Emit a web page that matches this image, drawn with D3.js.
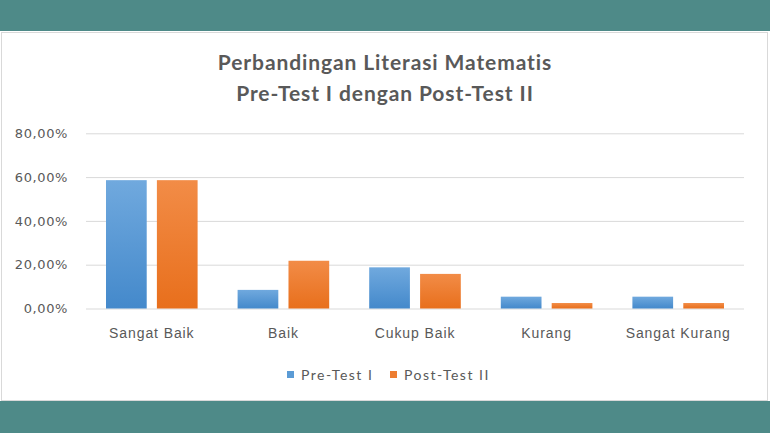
<!DOCTYPE html>
<html>
<head>
<meta charset="utf-8">
<script src="https://cdn.jsdelivr.net/npm/d3@7"></script>
<style>
  body { margin: 0; background: #fff; }
  svg { display: block; font-family: Lato, "Open Sans", sans-serif; }
</style>
</head>
<body>
<script>
// data
var categories = ['Sangat Baik', 'Baik', 'Cukup Baik', 'Kurang', 'Sangat Kurang'];
var seriesNames = ['Pre-Test I', 'Post-Test II'];
var preTest = [0.586, 0.085, 0.188, 0.054, 0.054];
var postTest = [0.586, 0.218, 0.158, 0.025, 0.025];
var yTicks = [0, 0.2, 0.4, 0.6, 0.8];
var titleLines = ['Perbandingan Literasi Matematis', 'Pre-Test I dengan Post-Test II'];

var width = 770, height = 433;
var colors = ['#5b9bd5', '#ed7d31'];
var textColor = '#595959';

var svg = d3.select('body').append('svg')
  .attr('width', width)
  .attr('height', height);

var defs = svg.append('defs');
var grads = [['#70a9de', '#4489cb'], ['#f28c47', '#e86f1c']];
grads.forEach(function (g, i) {
  var lg = defs.append('linearGradient')
    .attr('id', 'g' + i)
    .attr('x1', 0).attr('y1', 0).attr('x2', 0).attr('y2', 1);
  lg.append('stop').attr('offset', '0%').attr('stop-color', g[0]);
  lg.append('stop').attr('offset', '100%').attr('stop-color', g[1]);
});

// frame
svg.append('rect').attr('x', 0).attr('y', 0).attr('width', width).attr('height', height).attr('fill', '#fff');
svg.append('rect').attr('x', 0).attr('y', 0).attr('width', width).attr('height', 31).attr('fill', '#4e8a88');
svg.append('rect').attr('x', 0).attr('y', 401).attr('width', width).attr('height', 32).attr('fill', '#4e8a88');
svg.append('rect').attr('x', 1.5).attr('y', 32.5).attr('width', 766).attr('height', 368)
  .attr('fill', 'none').attr('stroke', '#d9d9d9').attr('stroke-width', 1);

// scales
var x0 = d3.scaleBand().domain(categories).range([86, 744]).padding(0);
var x1 = d3.scaleBand().domain(seriesNames).range([20, x0.bandwidth() - 20]).paddingInner(0.2);
var y = d3.scaleLinear().domain([0, 0.8]).range([308.5, 133.3]);

var fmt = d3.formatLocale({ decimal: ',', thousands: '.', grouping: [3], currency: ['', ''] }).format('.2%');

// gridlines
var yAxis = d3.axisLeft(y).tickValues(yTicks).tickSize(-(744 - 86)).tickFormat(fmt).tickPadding(18);
var gy = svg.append('g').attr('transform', 'translate(86,0)').call(yAxis);
gy.select('.domain').remove();
gy.selectAll('.tick line').attr('stroke', '#d9d9d9').attr('stroke-width', 1);
gy.selectAll('.tick text').attr('fill', textColor)
  .style('font-family', '"DejaVu Sans", sans-serif')
  .style('font-size', '13px')
  .style('letter-spacing', '0.6px');

// bars
var rows = categories.map(function (c, i) {
  return { cat: c, vals: [preTest[i], postTest[i]] };
});
var groups = svg.selectAll('.grp').data(rows).enter().append('g')
  .attr('transform', function (d) { return 'translate(' + x0(d.cat) + ',0)'; });
groups.selectAll('rect')
  .data(function (d) { return d.vals.map(function (v, j) { return { s: seriesNames[j], v: v, j: j }; }); })
  .enter().append('rect')
  .attr('x', function (d) { return x1(d.s); })
  .attr('y', function (d) { return y(d.v); })
  .attr('width', x1.bandwidth())
  .attr('height', function (d) { return y(0) - y(d.v); })
  .attr('fill', function (d) { return 'url(#g' + d.j + ')'; });

// x axis labels
var xAxis = d3.axisBottom(x0).tickSize(0).tickPadding(20);
var gx = svg.append('g').attr('transform', 'translate(0,' + y(0) + ')').call(xAxis);
gx.select('.domain').remove();
gx.selectAll('.tick text').attr('fill', textColor)
  .style('font-size', '14px')
  .style('letter-spacing', '0.9px');

// title
svg.selectAll('.title').data(titleLines).enter().append('text')
  .attr('x', 385)
  .attr('y', function (d, i) { return 70 + i * 31; })
  .attr('text-anchor', 'middle')
  .attr('fill', textColor)
  .style('font-size', '21px')
  .style('font-weight', 'bold')
  .style('letter-spacing', '0.9px')
  .text(function (d) { return d; });

// legend
var legX = [287, 390];
var leg = svg.selectAll('.leg').data(seriesNames).enter().append('g')
  .attr('transform', function (d, i) { return 'translate(' + legX[i] + ',375)'; });
leg.append('rect').attr('x', 0).attr('y', -4).attr('width', 7).attr('height', 7)
  .attr('fill', function (d, i) { return colors[i]; });
leg.append('text').attr('x', 14).attr('y', 5)
  .attr('fill', textColor).style('font-size', '14px')
  .style('letter-spacing', '1.5px')
  .text(function (d) { return d; });
</script>
</body>
</html>
